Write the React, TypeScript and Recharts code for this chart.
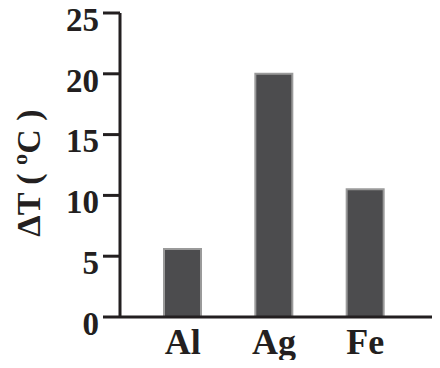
import React from 'react';
import { BarChart, Bar, XAxis, YAxis, Customized } from 'recharts';

const metals = ['Al', 'Ag', 'Fe'];
const deltaT = [5.6, 20, 10.5];
const yTicks = [0, 5, 10, 15, 20, 25];

const data = metals.map((m, i) => ({ metal: m, dt: deltaT[i] }));

const ink = '#231f20';

// axis title drawn inside the chart svg
const AxisTitle = () => (
  <text
    x={28}
    y={173}
    transform="rotate(-90 28 173)"
    textAnchor="middle"
    dominantBaseline="central"
    fontFamily="Liberation Serif"
    fontWeight="bold"
    fontSize={34}
    fill={ink}
  >
    ΔT ( ºC )
  </text>
);

export default function App() {
  return (
    <div style={{ margin: -8 }}>
      <BarChart width={440} height={368} data={data} margin={{ top: 13, right: 0, bottom: 0, left: 0 }} barSize={37}>
        <XAxis
          dataKey="metal"
          height={51}
          padding={{ left: 17, right: 29 }}
          axisLine={{ stroke: ink, strokeWidth: 3 }}
          tickLine={false}
          tickSize={0}
          tickMargin={11}
          tick={{ fill: ink, fontSize: 36, fontWeight: 'bold', fontFamily: 'Liberation Serif' }}
        />
        <YAxis
          width={120}
          domain={[0, 25]}
          ticks={yTicks}
          interval={0}
          axisLine={{ stroke: ink, strokeWidth: 3 }}
          tickLine={{ stroke: ink, strokeWidth: 3 }}
          tickSize={17}
          tickMargin={4}
          tick={{ fill: ink, fontSize: 33, fontWeight: 'bold', dy: 6, fontFamily: 'Liberation Serif' }}
        />
        <Bar dataKey="dt" fill="#4c4c4e" stroke="#9a9a9a" strokeWidth={2} isAnimationActive={false} />
        <Customized component={AxisTitle} />
      </BarChart>
    </div>
  );
}
